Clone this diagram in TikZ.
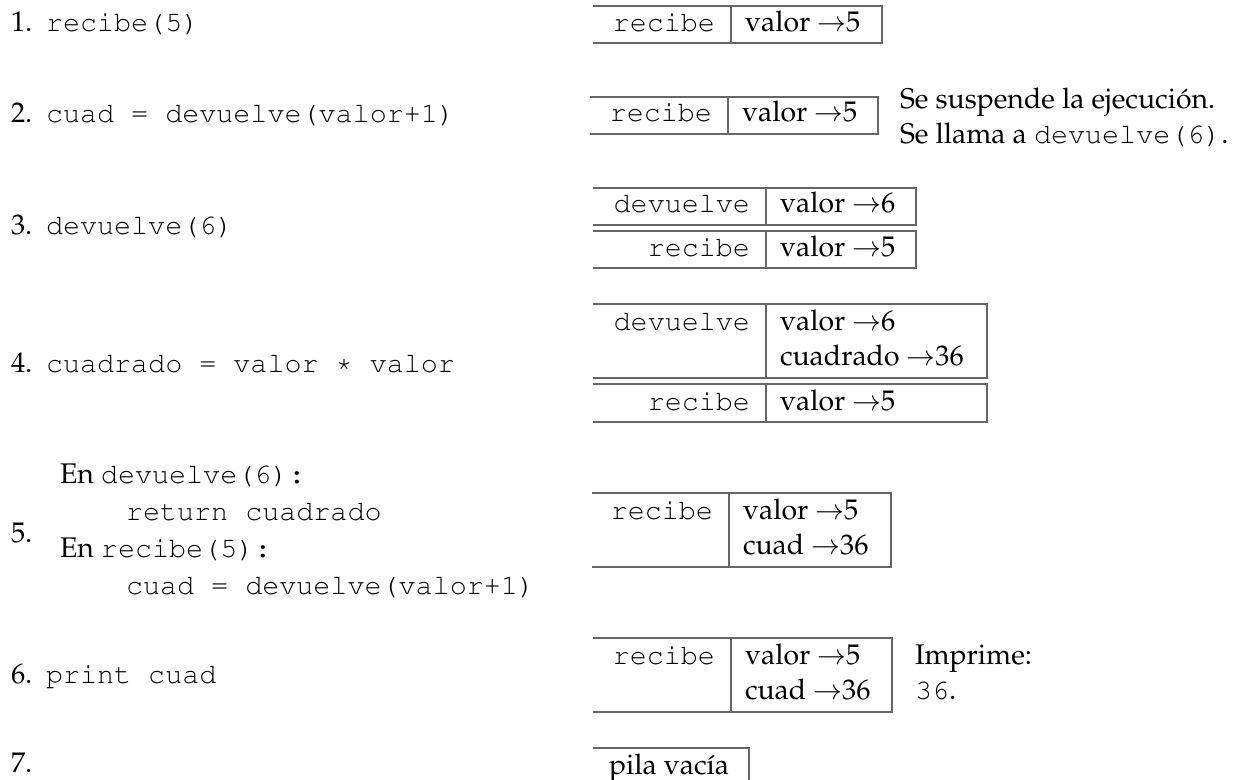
\documentclass[tikz,border=0pt]{standalone}
\usepackage[T1]{fontenc}
\renewcommand{\rmdefault}{ppl}
\renewcommand{\ttdefault}{pcr}
\newcommand{\myarr}{$\rightarrow$}
\begin{document}
\begin{tikzpicture}[x=0.5pt,y=-0.5pt,
  every node/.style={inner sep=0pt,outer sep=0pt,font=\fontsize{14.2}{17}\selectfont},
  frame/.style={draw=black!60,line width=0.65pt},
  lt/.style={anchor=base west},
  rt/.style={anchor=base east}]
\useasboundingbox (0,0) rectangle (1251,780);

% ---------- left column ----------
\node[lt] (n1) at (11,32) {1.};
\node[lt] (c1) at (46,32) {\ttfamily recibe(5)};
\node[lt] (n2) at (11,123) {2.};
\node[lt] (c2) at (46,123) {\ttfamily cuad = devuelve(valor+1)};
\node[lt] (n3) at (11,235) {3.};
\node[lt] (c3) at (46,235) {\ttfamily devuelve(6)};
\node[lt] (n4) at (11,372) {4.};
\node[lt] (c4) at (46,372) {\ttfamily cuadrado = valor * valor};
\node[lt] (n5) at (11,542) {5.};
\node[lt] (c5a) at (60,483) {En \texttt{devuelve(6):}};
\node[lt] (c5b) at (126,520) {\ttfamily return cuadrado};
\node[lt] (c5c) at (60,557) {En \texttt{recibe(5):}};
\node[lt] (c5d) at (126,594) {\ttfamily cuad = devuelve(valor+1)};
\node[lt] (n6) at (11,683) {6.};
\node[lt] (c6) at (46,683) {\ttfamily print cuad};
\node[lt] (n7) at (11,772) {7.};

% ---------- box 1 ----------
\draw[frame] (593,6) -- (882,6) -- (882,43) -- (593,43);
\draw[frame] (731,6) -- (731,43);
\node[rt] (b1k) at (715,32) {\ttfamily recibe};
\node[lt] (b1v) at (745,32) {valor \myarr5};

% ---------- box 2 ----------
\draw[frame] (590,97) -- (878,97) -- (878,134) -- (590,134);
\draw[frame] (728,97) -- (728,134);
\node[rt] (b2k) at (712,122) {\ttfamily recibe};
\node[lt] (b2v) at (742,122) {valor \myarr5};
\node[lt] (s2a) at (900,109) {Se suspende la ejecuci\'on.};
\node[lt] (s2b) at (900,144) {Se llama a \texttt{devuelve(6)}.};

% ---------- box 3 ----------
\draw[frame] (593,188) -- (916,188) -- (916,225) -- (593,225);
\draw[frame] (766,188) -- (766,225);
\draw[frame] (593,231) -- (916,231) -- (916,268) -- (593,268);
\draw[frame] (766,231) -- (766,268);
\node[rt] (b3k1) at (750,213) {\ttfamily devuelve};
\node[lt] (b3v1) at (780,213) {valor \myarr6};
\node[rt] (b3k2) at (750,257) {\ttfamily recibe};
\node[lt] (b3v2) at (780,257) {valor \myarr5};

% ---------- box 4 ----------
\draw[frame] (593,304) -- (987,304) -- (987,378) -- (593,378);
\draw[frame] (766,304) -- (766,378);
\draw[frame] (593,384) -- (987,384) -- (987,422) -- (593,422);
\draw[frame] (766,384) -- (766,422);
\node[rt] (b4k1) at (750,330) {\ttfamily devuelve};
\node[lt] (b4v1) at (780,330) {valor \myarr6};
\node[lt] (b4v2) at (780,365) {cuadrado \myarr36};
\node[rt] (b4k2) at (750,410) {\ttfamily recibe};
\node[lt] (b4v3) at (780,410) {valor \myarr5};

% ---------- box 5 ----------
\draw[frame] (592,493) -- (891,493) -- (891,567) -- (592,567);
\draw[frame] (729,493) -- (729,567);
\node[rt] (b5k) at (713,519) {\ttfamily recibe};
\node[lt] (b5v1) at (743,519) {valor \myarr5};
\node[lt] (b5v2) at (743,554) {cuad \myarr36};

% ---------- box 6 ----------
\draw[frame] (593,638) -- (892,638) -- (892,712) -- (593,712);
\draw[frame] (731,638) -- (731,712);
\node[rt] (b6k) at (715,664) {\ttfamily recibe};
\node[lt] (b6v1) at (745,664) {valor \myarr5};
\node[lt] (b6v2) at (745,699) {cuad \myarr36};
\node[lt] (s6a) at (915,664) {Imprime:};
\node[lt] (s6b) at (915,699) {\texttt{36}.};

% ---------- box 7 ----------
\draw[frame] (593,748) -- (749,748) -- (749,780);
\node[lt] (b7) at (609,774) {pila vac\'{\i}a};
\end{tikzpicture}
\end{document}
